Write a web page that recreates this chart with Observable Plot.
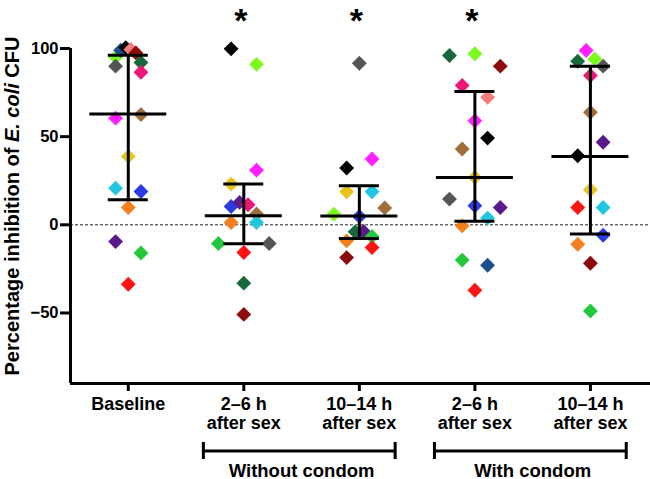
<!DOCTYPE html>
<html><head><meta charset="utf-8">
<script src="https://cdn.jsdelivr.net/npm/d3@7"></script>
<script src="https://cdn.jsdelivr.net/npm/@observablehq/plot@0.6"></script>
<style>
html,body{margin:0;padding:0;background:#fff;}
#chart svg{display:block;}
</style></head><body><div id="chart"></div>
<script>
// ---------- data ----------
const categories = ["Baseline", "2–6 h\nafter sex", "10–14 h\nafter sex", "2–6 h\nafter sex", "10–14 h\nafter sex"];
const significant = [false, true, true, true, false];

const subjects = ["navy","salmon","maroon","lime","gray","dkgreen","dpink","magenta","brown","gold","cyan","blue","orange","purple","green","red","black"];
const subjectColors = ["#1d4f90","#f27b7b","#8c0b0b","#7cfa1e","#555555","#17683a","#ee1579","#ff20ff","#9f6e3c","#e6c41c","#1fc7e0","#2b3be6","#f2801f","#5b1a8c","#23c83c","#ff1414","#000000"];

const baselineSubjects = ["lime","gray","navy","black","salmon","maroon","dkgreen","dpink","magenta","brown","gold","cyan","blue","orange","purple","green","red"];
const baselineValues   = [95, 90, 99, 100.5, 99.5, 97.5, 92, 86.5, 60.5, 62.5, 38.8, 20.8, 18.9, 9.8, -9.5, -16, -33.7];

const noCondomEarlySubjects = ["black","lime","gold","magenta","blue","purple","dpink","brown","orange","cyan","green","red","gray","dkgreen","maroon"];
const noCondomEarlyValues   = [99.8, 91, 23.1, 31, 10.4, 12.7, 11.4, 6.1, 1.3, 1.3, -10.6, -15.7, -10.6, -33.1, -50.8];

const noCondomLateSubjects = ["gray","black","magenta","gold","cyan","lime","blue","brown","orange","dkgreen","purple","green","maroon","red"];
const noCondomLateValues   = [91.6, 32.2, 37.3, 18.75, 18.75, 6, 4.7, 9.6, -9.1, -4, -3.8, -6.6, -18.6, -12.9];

const condomEarlySubjects = ["dkgreen","lime","maroon","dpink","salmon","magenta","brown","black","gold","gray","blue","purple","orange","cyan","green","navy","red"];
const condomEarlyValues   = [96, 97, 90, 79, 72.3, 59, 43, 49.2, 26.9, 14.6, 10.8, 9.8, -0.6, 3.8, -20, -22.9, -37.1];

const condomLateSubjects = ["dkgreen","magenta","lime","gray","dpink","brown","black","purple","red","cyan","gold","orange","blue","maroon","green"];
const condomLateValues   = [92.8, 98.9, 94.1, 90, 84.7, 63.8, 39.2, 46.8, 9.8, 9.8, 19.9, -11, -5.9, -21.8, -48.9];

const medians        = [62.8, 5.1, 5.0, 26.9, 38.8];
const upperQuartiles = [96.2, 23.1, 22.2, 75.6, 90];
const lowerQuartiles = [14.2, -10.8, -7.8, 2, -5.2];

const yTicks = [-50, 0, 50, 100];
const bracketLabels = ["Without condom", "With condom"];
const bracketFrom = [1, 3];
const bracketTo = [2, 4];

// ---------- layout constants ----------
const W = 650, H = 479, ML = 70, MR = 0, MT = 48, MB = 96;
const X_DOMAIN = [-0.5, 4.52];
const Y_DOMAIN = [-90, 100];
const PX_PER_X = (W - ML - MR) / (X_DOMAIN[1] - X_DOMAIN[0]);
const PX_PER_Y = (H - MT - MB) / (Y_DOMAIN[1] - Y_DOMAIN[0]);
const STEP_PX = 12.7;      // horizontal spreading step for overlapping points
const ROW_T = 9;           // values closer than this share a row
const MED_HALF = 38.5 / PX_PER_X;
const CAP_HALF = 20 / PX_PER_X;
const PAD_L = 0.35, PAD_R = 0.31;
const FONT = "'Liberation Sans', Arial, Helvetica, sans-serif";

function layoutGroup(gi, subj, vals) {
  const pts = subj.map((s, k) => ({group: gi, subject: s, value: vals[k], order: k, offset: 0}));
  const sorted = pts.slice().sort((a, b) => b.value - a.value || a.order - b.order);
  let i = 0;
  while (i < sorted.length) {
    let j = i + 1;
    while (j < sorted.length && sorted[i].value - sorted[j].value < ROW_T) j++;
    const row = sorted.slice(i, j).sort((a, b) => a.order - b.order);
    const n = row.length;
    row.forEach((p, k) => {
      let off;
      if (n === 1) off = 0;
      else if (n === 2) off = k === 0 ? -STEP_PX : STEP_PX;
      else if (n === 3) off = (k - 1) * 2 * STEP_PX;
      else off = -STEP_PX + k * 2 * STEP_PX / (n - 1);
      p.offset = off / PX_PER_X;
    });
    i = j;
  }
  return pts;
}

const points = [
  ...layoutGroup(0, baselineSubjects, baselineValues),
  ...layoutGroup(1, noCondomEarlySubjects, noCondomEarlyValues),
  ...layoutGroup(2, noCondomLateSubjects, noCondomLateValues),
  ...layoutGroup(3, condomEarlySubjects, condomEarlyValues),
  ...layoutGroup(4, condomLateSubjects, condomLateValues)
];

const groupIdx = d3.range(categories.length);
const bracketIdx = d3.range(bracketLabels.length);
const yMin = Y_DOMAIN[0], yMax = Y_DOMAIN[1];
// bracket vertical placement (pixels below the x axis line), converted to y units
const yBelow = px => yMin - px / PX_PER_Y;
const bracketEnds = bracketIdx.flatMap(i => [bracketFrom[i] - PAD_L, bracketTo[i] + PAD_R]);

const plot = Plot.plot({
  width: W, height: H,
  marginLeft: ML, marginRight: MR, marginTop: MT, marginBottom: MB,
  style: {fontFamily: FONT, background: "white", color: "black"},
  x: {domain: X_DOMAIN, axis: null},
  y: {domain: Y_DOMAIN, axis: null},
  color: {domain: subjects, range: subjectColors},
  marks: [
    Plot.ruleY([0], {stroke: "#222", strokeWidth: 1, strokeDasharray: "3,2"}),
    Plot.dot(points, {x: d => d.group + d.offset, y: "value", fill: "subject", symbol: "diamond2", r: 6.7, stroke: "none"}),
    Plot.ruleX(groupIdx, {x: i => i, y1: i => lowerQuartiles[i], y2: i => upperQuartiles[i], stroke: "black", strokeWidth: 3}),
    Plot.ruleY(groupIdx, {x1: i => i - MED_HALF, x2: i => i + MED_HALF, y: i => medians[i], stroke: "black", strokeWidth: 3}),
    Plot.ruleY(groupIdx, {x1: i => i - CAP_HALF, x2: i => i + CAP_HALF, y: i => upperQuartiles[i], stroke: "black", strokeWidth: 3}),
    Plot.ruleY(groupIdx, {x1: i => i - CAP_HALF, x2: i => i + CAP_HALF, y: i => lowerQuartiles[i], stroke: "black", strokeWidth: 3}),
    Plot.axisY(yTicks, {tickSize: 10, tickPadding: 2, strokeWidth: 3, fontSize: 16.5, fontWeight: "bold", label: null}),
    Plot.axisX(groupIdx, {tickSize: 8, tickPadding: 5.5, strokeWidth: 3, fontSize: 18, fontWeight: "bold", lineHeight: 1.05, tickFormat: i => categories[i], label: null}),
    Plot.ruleX([X_DOMAIN[0]], {x: d => d, y1: () => yMin, y2: () => yMax, stroke: "black", strokeWidth: 3}),
    Plot.ruleY([yMin], {y: d => d, x1: () => X_DOMAIN[0], x2: () => X_DOMAIN[1], stroke: "black", strokeWidth: 3}),
    Plot.text(groupIdx.filter(i => significant[i]), {x: i => i, y: () => yMax, text: () => "*", fontSize: 34, fontWeight: "bold", lineAnchor: "bottom", dy: -17, dx: -3}),
    // group brackets
    Plot.ruleY(bracketIdx, {x1: i => bracketFrom[i] - PAD_L, x2: i => bracketTo[i] + PAD_R, y: () => yBelow(67.5), stroke: "black", strokeWidth: 3}),
    Plot.ruleX(bracketEnds, {x: d => d, y1: () => yBelow(59), y2: () => yBelow(76), stroke: "black", strokeWidth: 3}),
    Plot.text(bracketIdx, {x: i => (bracketFrom[i] + bracketTo[i]) / 2, y: () => yMin, text: i => bracketLabels[i], dy: 93, lineAnchor: "bottom", fontSize: 18.5, fontWeight: "bold"})
  ]
});

const svg = d3.select(plot);
const t = svg.append("text")
  .attr("transform", `translate(18.5,206) rotate(-90)`)
  .attr("text-anchor", "middle")
  .attr("font-size", 20)
  .attr("font-weight", "bold")
  .attr("font-family", FONT)
  .attr("fill", "black");
t.append("tspan").text("Percentage inhibition of ");
t.append("tspan").attr("font-style", "italic").text("E. coli");
t.append("tspan").text(" CFU");

document.getElementById("chart").appendChild(plot);
</script>
</body></html>
